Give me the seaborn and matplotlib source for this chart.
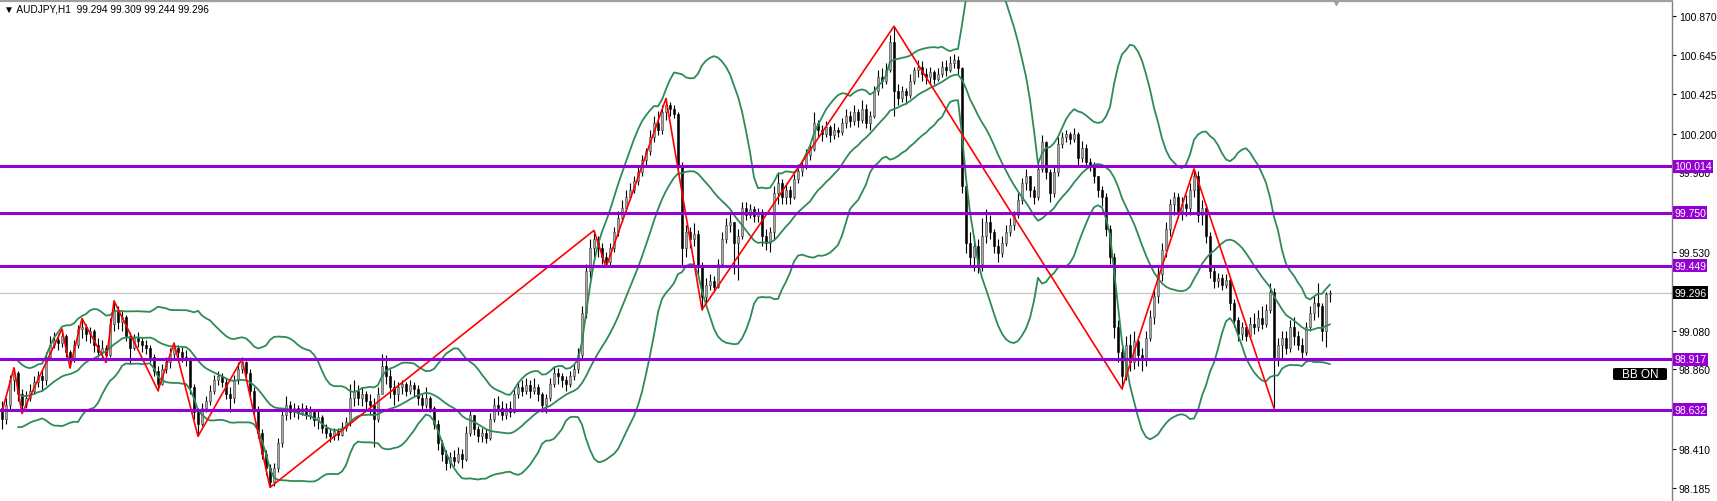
import numpy as np
import pandas as pd
import matplotlib
matplotlib.use("Agg")
import matplotlib.pyplot as plt
import matplotlib.transforms as mtransforms
from matplotlib.patches import FancyBboxPatch
import seaborn as sns

# AUDJPY H1 candles (open = previous close)
first_open = 98.64
closes = [
    98.58, 98.66, 98.80, 98.84, 98.72, 98.66, 98.70, 98.74, 98.79, 98.82,
    98.80, 98.93, 99.00, 99.03, 99.01, 99.05, 98.96, 98.92, 99.00, 99.09,
    99.10, 99.06, 99.08, 99.00, 98.96, 98.98, 98.94, 99.12, 99.20, 99.13,
    99.16, 99.05, 98.98, 99.04, 99.02, 99.00, 98.98, 98.93, 98.85, 98.78,
    98.86, 98.90, 98.95, 98.98, 98.96, 98.93, 98.92, 98.76, 98.62, 98.55,
    98.64, 98.68, 98.74, 98.80, 98.82, 98.79, 98.72, 98.70, 98.80, 98.86,
    98.90, 98.84, 98.74, 98.63, 98.50, 98.38, 98.30, 98.22, 98.30, 98.44,
    98.60, 98.66, 98.62, 98.64, 98.61, 98.64, 98.60, 98.62, 98.57, 98.59,
    98.53, 98.50, 98.48, 98.51, 98.49, 98.53, 98.56, 98.70, 98.74, 98.70,
    98.72, 98.68, 98.66, 98.58, 98.72, 98.88, 98.82, 98.76, 98.72, 98.76,
    98.78, 98.74, 98.77, 98.75, 98.70, 98.66, 98.70, 98.64, 98.55, 98.44,
    98.38, 98.33, 98.36, 98.34, 98.38, 98.35, 98.50, 98.60, 98.52, 98.48,
    98.50, 98.47, 98.58, 98.66, 98.64, 98.60, 98.64, 98.62, 98.72, 98.76,
    98.74, 98.77, 98.74, 98.76, 98.72, 98.66, 98.70, 98.78, 98.84, 98.82,
    98.80, 98.78, 98.82, 98.86, 98.94, 99.18, 99.42, 99.55, 99.60, 99.55,
    99.50, 99.47, 99.55, 99.64, 99.72, 99.78, 99.84, 99.88, 99.93, 99.98,
    100.05, 100.10, 100.18, 100.26, 100.22, 100.32, 100.36, 100.34, 100.31, 100.02,
    99.55, 99.64, 99.60, 99.63, 99.45, 99.27, 99.34, 99.36, 99.33, 99.46,
    99.60, 99.68, 99.70, 99.58, 99.62, 99.78, 99.74, 99.77, 99.73, 99.75,
    99.62, 99.58, 99.64, 99.86, 99.92, 99.84, 99.88, 99.84, 99.94, 99.99,
    100.02, 100.08, 100.11, 100.26, 100.22, 100.20, 100.24, 100.19, 100.22, 100.21,
    100.26, 100.30, 100.27, 100.32, 100.28, 100.34, 100.26, 100.30, 100.44, 100.52,
    100.50, 100.56, 100.72, 100.44, 100.40, 100.44, 100.42, 100.50, 100.56, 100.58,
    100.54, 100.52, 100.55, 100.51, 100.54, 100.58, 100.56, 100.60, 100.62, 100.57,
    99.90, 99.58, 99.50, 99.56, 99.46, 99.62, 99.70, 99.64, 99.56, 99.52,
    99.58, 99.64, 99.68, 99.74, 99.82, 99.92, 99.96, 99.88, 99.84, 100.00,
    100.15, 99.98, 99.86, 99.98, 100.14, 100.18, 100.20, 100.17, 100.20, 100.06,
    100.12, 100.04, 100.02, 99.96, 99.88, 99.84, 99.66, 99.50, 99.10, 98.96,
    98.82, 99.00, 98.90, 99.02, 98.94, 98.92, 99.04, 99.16, 99.28, 99.40,
    99.54, 99.66, 99.80, 99.84, 99.76, 99.80, 99.78, 99.88, 99.96, 99.74,
    99.78, 99.62, 99.42, 99.36, 99.38, 99.34, 99.37, 99.24, 99.14, 99.06,
    99.10, 99.05, 99.12, 99.10, 99.15, 99.12, 99.20, 99.30, 98.92, 99.00,
    99.04, 98.98, 99.10, 99.05, 99.00, 98.96, 99.10, 99.18, 99.24, 99.22,
    99.08, 99.29, 99.296,
]
highs = [
    98.68, 98.70, 98.83, 98.87, 98.85, 98.75, 98.74, 98.78, 98.82, 98.85,
    98.86, 98.96, 99.05, 99.07, 99.06, 99.09, 99.06, 98.97, 99.03, 99.11,
    99.15, 99.12, 99.10, 99.09, 99.04, 99.03, 99.00, 99.15, 99.25, 99.22,
    99.20, 99.17, 99.07, 99.06, 99.07, 99.04, 99.03, 99.00, 98.95, 98.88,
    98.89, 98.93, 98.98, 99.01, 99.00, 98.99, 98.97, 98.93, 98.78, 98.64,
    98.67, 98.71, 98.77, 98.83, 98.85, 98.84, 98.81, 98.76, 98.83, 98.90,
    98.93, 98.91, 98.86, 98.76, 98.65, 98.52, 98.40, 98.32, 98.33, 98.47,
    98.64, 98.71, 98.68, 98.67, 98.66, 98.67, 98.66, 98.65, 98.63, 98.63,
    98.60, 98.55, 98.53, 98.53, 98.53, 98.56, 98.59, 98.78, 98.80, 98.77,
    98.76, 98.74, 98.72, 98.70, 98.76, 98.95, 98.94, 98.86, 98.80, 98.79,
    98.80, 98.79, 98.80, 98.79, 98.77, 98.72, 98.76, 98.71, 98.65, 98.57,
    98.46, 98.40, 98.39, 98.40, 98.42, 98.41, 98.54, 98.63, 98.60, 98.54,
    98.53, 98.52, 98.61, 98.70, 98.71, 98.68, 98.67, 98.68, 98.76, 98.79,
    98.80, 98.81, 98.80, 98.81, 98.78, 98.73, 98.72, 98.81, 98.88, 98.87,
    98.84, 98.82, 98.85, 98.89, 98.98, 99.22, 99.46, 99.60, 99.65, 99.62,
    99.58, 99.53, 99.58, 99.67, 99.76, 99.82, 99.88, 99.92, 99.96, 100.02,
    100.08, 100.12, 100.22, 100.30, 100.33, 100.36, 100.40, 100.38, 100.36, 100.32,
    100.04, 99.68, 99.67, 99.69, 99.65, 99.47, 99.38, 99.40, 99.39, 99.49,
    99.64, 99.72, 99.75, 99.70, 99.66, 99.81, 99.81, 99.80, 99.79, 99.78,
    99.77, 99.66, 99.67, 99.90, 99.98, 99.94, 99.92, 99.90, 99.97, 100.03,
    100.05, 100.11, 100.14, 100.32, 100.28, 100.25, 100.27, 100.25, 100.26, 100.24,
    100.29, 100.34, 100.33, 100.36, 100.34, 100.39, 100.37, 100.33, 100.47, 100.56,
    100.57, 100.60, 100.76, 100.81, 100.48, 100.47, 100.46, 100.54, 100.58, 100.62,
    100.61, 100.57, 100.58, 100.56, 100.57, 100.61, 100.62, 100.64, 100.65, 100.64,
    100.58, 99.92, 99.64, 99.62, 99.60, 99.72, 99.77, 99.74, 99.66, 99.60,
    99.62, 99.68, 99.72, 99.76, 99.86, 99.95, 100.00, 99.96, 99.90, 100.04,
    100.19, 100.16, 100.00, 100.02, 100.18, 100.21, 100.22, 100.21, 100.23, 100.21,
    100.16, 100.14, 100.06, 100.04, 99.96, 99.90, 99.86, 99.68, 99.52, 99.14,
    98.98, 99.05, 99.06, 99.08, 99.05, 98.98, 99.08, 99.20, 99.31, 99.44,
    99.58, 99.70, 99.83, 99.87, 99.86, 99.84, 99.85, 99.92, 100.00, 99.99,
    99.82, 99.80, 99.64, 99.44, 99.41, 99.40, 99.40, 99.38, 99.26, 99.16,
    99.13, 99.12, 99.16, 99.18, 99.20, 99.22, 99.23, 99.35, 99.32, 99.04,
    99.08, 99.08, 99.14, 99.16, 99.08, 99.04, 99.13, 99.22, 99.28, 99.35,
    99.24, 99.30, 99.309,
]
lows = [
    98.52, 98.55, 98.63, 98.74, 98.68, 98.61, 98.64, 98.68, 98.72, 98.76,
    98.74, 98.77, 98.92, 98.98, 98.97, 98.99, 98.93, 98.87, 98.90, 98.98,
    99.04, 99.02, 99.01, 98.96, 98.93, 98.92, 98.90, 98.93, 99.08, 99.09,
    99.08, 99.02, 98.89, 98.97, 98.99, 98.96, 98.95, 98.90, 98.82, 98.74,
    98.77, 98.84, 98.87, 98.92, 98.92, 98.90, 98.88, 98.72, 98.58, 98.48,
    98.54, 98.62, 98.66, 98.72, 98.77, 98.76, 98.69, 98.62, 98.67, 98.78,
    98.84, 98.81, 98.71, 98.60, 98.47, 98.35, 98.26, 98.19, 98.20, 98.28,
    98.42, 98.57, 98.58, 98.59, 98.58, 98.60, 98.58, 98.58, 98.54, 98.52,
    98.50, 98.47, 98.45, 98.46, 98.46, 98.48, 98.51, 98.54, 98.65, 98.66,
    98.65, 98.63, 98.60, 98.42, 98.56, 98.72, 98.78, 98.70, 98.66, 98.68,
    98.72, 98.71, 98.72, 98.71, 98.66, 98.63, 98.64, 98.62, 98.52, 98.40,
    98.34, 98.29, 98.30, 98.31, 98.33, 98.30, 98.34, 98.48, 98.49, 98.45,
    98.45, 98.44, 98.46, 98.56, 98.60, 98.57, 98.58, 98.59, 98.61, 98.70,
    98.71, 98.72, 98.70, 98.72, 98.68, 98.62, 98.61, 98.68, 98.76, 98.78,
    98.76, 98.74, 98.76, 98.80, 98.84, 98.92, 99.15, 99.38, 99.50, 99.50,
    99.46, 99.44, 99.45, 99.53, 99.62, 99.70, 99.76, 99.82, 99.86, 99.91,
    99.96, 100.02, 100.08, 100.15, 100.19, 100.20, 100.28, 100.30, 100.29, 99.97,
    99.45, 99.50, 99.55, 99.56, 99.40, 99.20, 99.24, 99.31, 99.30, 99.32,
    99.44, 99.58, 99.64, 99.40, 99.37, 99.60, 99.71, 99.72, 99.70, 99.70,
    99.56, 99.54, 99.53, 99.60, 99.80, 99.80, 99.80, 99.80, 99.83, 99.92,
    99.96, 100.00, 100.05, 100.10, 100.18, 100.16, 100.18, 100.15, 100.17, 100.18,
    100.19, 100.23, 100.24, 100.25, 100.24, 100.26, 100.23, 100.22, 100.29, 100.42,
    100.46, 100.48, 100.55, 100.30, 100.36, 100.38, 100.37, 100.40, 100.48, 100.52,
    100.50, 100.48, 100.49, 100.48, 100.50, 100.52, 100.53, 100.55, 100.57, 100.54,
    99.86, 99.52, 99.44, 99.42, 99.41, 99.42, 99.58, 99.60, 99.52, 99.47,
    99.50, 99.56, 99.62, 99.65, 99.72, 99.80, 99.88, 99.84, 99.80, 99.82,
    99.98, 99.94, 99.81, 99.84, 99.96, 100.12, 100.15, 100.14, 100.15, 100.02,
    100.04, 100.00, 99.99, 99.92, 99.84, 99.79, 99.62, 99.46, 99.04, 98.90,
    98.75, 98.80, 98.85, 98.86, 98.88, 98.85, 98.88, 99.02, 99.12, 99.24,
    99.36, 99.50, 99.62, 99.74, 99.72, 99.71, 99.73, 99.74, 99.84, 99.70,
    99.68, 99.58, 99.38, 99.32, 99.33, 99.31, 99.32, 99.20, 99.10, 99.02,
    99.03, 99.02, 99.04, 99.06, 99.08, 99.09, 99.10, 99.18, 98.64, 98.88,
    98.92, 98.95, 98.96, 99.00, 98.97, 98.92, 98.94, 99.08, 99.14, 99.16,
    99.02, 98.99, 99.244,
]

# zigzag pivots (bar index, price)
zz_bars = [0, 3, 5, 15, 17, 20, 26, 28, 39, 43, 49, 60, 67, 148, 151, 166, 175, 223, 280, 298, 318]
zz_prices = [98.62, 98.87, 98.61, 99.09, 98.87, 99.15, 98.90, 99.25, 98.74, 99.01, 98.48, 98.92,
             98.19, 99.65, 99.44, 100.40, 99.20, 100.81, 98.75, 100.00, 98.64]

levels = [100.014, 99.750, 99.449, 98.917, 98.632]
last_price = 99.296
header = "\u25bc AUDJPY,H1  99.294 99.309 99.244 99.296"
tick_values = [100.870, 100.645, 100.425, 100.200, 99.980, 99.755, 99.530,
               99.305, 99.080, 98.860, 98.635, 98.410, 98.185]
# these price labels sit under the level boxes on the real chart
hidden_ticks = [99.755, 99.305, 98.635]

assert len(closes) == len(highs) == len(lows)

sns.set_theme(style="white")
plt.rcParams["font.family"] = ["Liberation Sans", "DejaVu Sans"]

df = pd.DataFrame({"close": closes, "high": highs, "low": lows})
df["open"] = [first_open] + closes[:-1]
df["bar"] = np.arange(len(df))
roll = df["close"].rolling(20, min_periods=5)
df["mid"] = roll.mean()
df["sd"] = roll.std(ddof=0)
df["upper"] = df["mid"] + 2 * df["sd"]
df["lower"] = df["mid"] - 2 * df["sd"]

W, H = 1717, 502
fig = plt.figure(figsize=(W / 100, H / 100), dpi=100)
ax = fig.add_axes([0, 0, 1672 / W, 500 / H])
ax.set_facecolor("white")

# candles
bull = df["close"] >= df["open"]
top = np.maximum(df["open"], df["close"])
bot = np.minimum(df["open"], df["close"])
ax.vlines(df["bar"], np.minimum(df["low"], bot), np.maximum(df["high"], top),
          color="black", lw=0.8, zorder=3)
hgt = np.maximum(top - bot, 0.004)
ax.bar(df["bar"][bull], hgt[bull], bottom=bot[bull], width=0.62,
       color="#a8a8a8", edgecolor="#404040", lw=0.4, zorder=4)
ax.bar(df["bar"][~bull], hgt[~bull], bottom=bot[~bull], width=0.62,
       color="black", edgecolor="black", lw=0.4, zorder=4)

# bollinger bands
band_col = "#2e8b57"
for col in ["upper", "mid", "lower"]:
    sns.lineplot(data=df, x="bar", y=col, ax=ax, color=band_col, lw=1.3, zorder=5)

# zigzag
sns.lineplot(x=zz_bars, y=zz_prices, ax=ax, color="red", lw=1.2, estimator=None, zorder=6)

# levels and bid line
ax.axhline(last_price, color="#c8c8c8", lw=1.0, zorder=2)
for lv in levels:
    ax.axhline(lv, color="#9400d3", lw=2.2, zorder=7)

ax.set_xlim(-0.5, -0.5 + 1672 / 4)
ax.set_ylim(98.1126, 100.9535)
ax.set_xlabel("")
ax.set_ylabel("")
ax.set_xticks([])

ax.yaxis.tick_right()
ax.set_yticks(tick_values)
ax.set_yticklabels(["" if v in hidden_ticks else f"{v:.3f}" for v in tick_values])
ax.tick_params(axis="y", right=True, labelsize=7.5, length=3, width=0.8,
               color="black", labelcolor="black", pad=2)

for s in ["left", "bottom"]:
    ax.spines[s].set_visible(False)
ax.spines["top"].set_color("#a0a0a0")
ax.spines["top"].set_linewidth(1.6)
ax.spines["right"].set_color("#808080")
ax.spines["right"].set_linewidth(1.0)

trans = mtransforms.blended_transform_factory(ax.transAxes, ax.transData)
for lv in levels:
    ax.text(1.0012, lv, f"{lv:.3f}", transform=trans, va="center", ha="left",
            fontsize=7.5, color="white", clip_on=False, zorder=10,
            bbox=dict(boxstyle="square,pad=0.14", fc="#9400d3", ec="none"))
ax.text(1.0012, last_price, f"{last_price:.3f}", transform=trans, va="center", ha="left",
        fontsize=7.5, color="white", clip_on=False, zorder=10,
        bbox=dict(boxstyle="square,pad=0.14", fc="black", ec="none"))

# "BB ON" label
ax.add_patch(FancyBboxPatch((1613 / 1672, (502 - 381) / 500), 54 / 1672, 12 / 500,
                            boxstyle="round,pad=0,rounding_size=0.002",
                            transform=ax.transAxes, fc="black", ec="none", zorder=10))
ax.text(1640 / 1672, (502 - 375) / 500, "BB ON", transform=ax.transAxes,
        ha="center", va="center", fontsize=8.5, color="white", zorder=11)

# shift marker and header
ax.plot([333.5], [100.9535], marker="v", ms=6, color="#a0a0a0", clip_on=False, zorder=9)
fig.text(4 / W, 1 - 9 / H, header, ha="left", va="center", fontsize=7.3, color="black")

fig.savefig("out.png", dpi=100)
